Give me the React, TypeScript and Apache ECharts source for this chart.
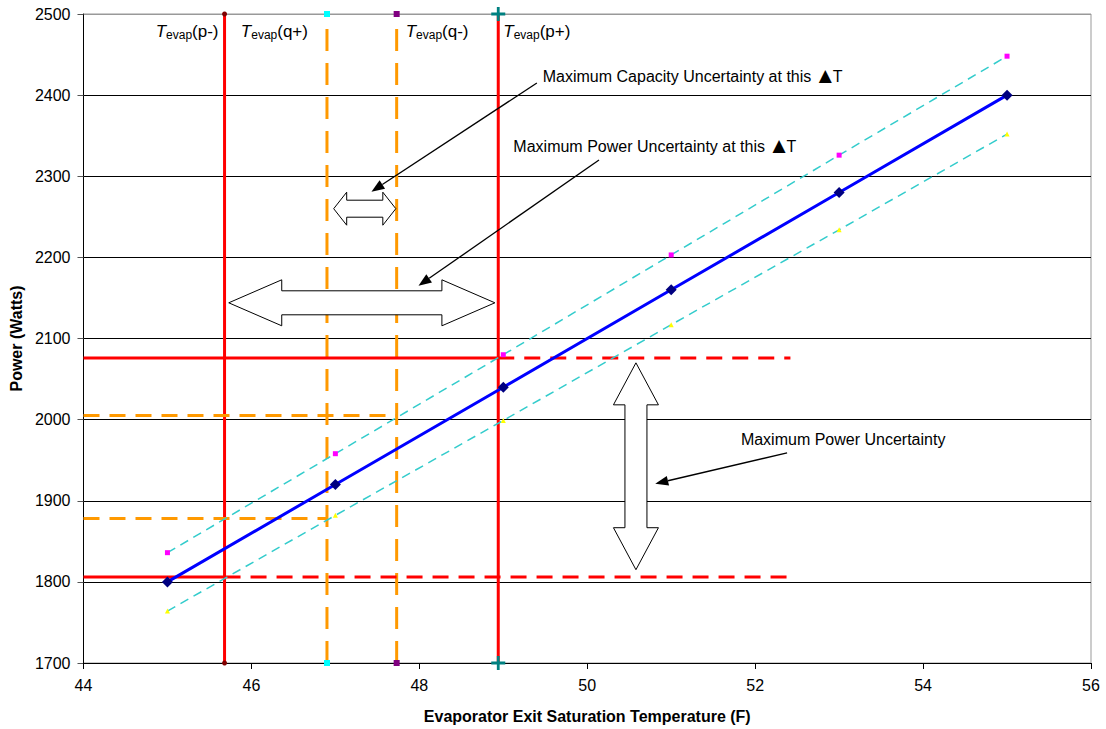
import React, { useEffect, useRef } from "react";
import * as echarts from "echarts";

// ---- data ----
const temps = [45, 47, 49, 51, 53, 55];
const powerMain = [1800, 1920, 2040, 2160, 2280, 2400];
const powerUpper = [1836, 1958, 2080, 2203, 2326, 2448];
const powerLower = [1764, 1882, 1999, 2117, 2234, 2352];

const tPminus = 45.68;
const tQplus = 46.9;
const tQminus = 47.73;
const tPplus = 48.94;

const pUpper = 2076;
const pLower = 1806;
const qUpper = 2005;
const qLower = 1878;
const dashEnd = 52.42;

const xMin = 44, xMax = 56, xStep = 2;
const yMin = 1700, yMax = 2500, yStep = 100;

const FONT = "'Liberation Sans', Arial, 'DejaVu Sans', sans-serif";

function vline(x: number, color: string, dashed: boolean, symbol: string, symColor: string, symSize: number) {
  return {
    type: "line",
    data: [[x, yMin], [x, yMax]],
    lineStyle: { color: dashed ? "#FF9900" : "#FF0000", width: 3, type: dashed ? [22, 12] : "solid" },
    itemStyle: { color: symColor },
    symbol,
    symbolSize: symSize,
    silent: true,
    z: 3,
  };
}

function hline(x0: number, x1: number, y: number, color: string, dashed: boolean) {
  return {
    type: "line",
    data: [[x0, y], [x1, y]],
    lineStyle: { color, width: 3, type: dashed ? [16, 10] : "solid" },
    symbol: "none",
    silent: true,
    z: 3,
  };
}

export default function App() {
  const ref = useRef<HTMLDivElement>(null);
  useEffect(() => {
    if (!ref.current) return;
    const chart = echarts.init(ref.current, undefined, { renderer: "svg" });
    const zip = (ys: number[]) => temps.map((t, i) => [t, ys[i]]);
    const splitColors = ["#000", "#000", "#000", "#000", "#000", "#000", "#000", "#000", "#999"];
    const option: any = {
      animation: false,
      textStyle: { fontFamily: FONT },
      grid: { left: 83, right: 15, top: 14, bottom: 66, show: true, borderColor: "#999", borderWidth: 1, backgroundColor: "#fff" },
      xAxis: {
        type: "value",
        min: xMin,
        max: xMax,
        interval: xStep,
        name: "Evaporator Exit Saturation Temperature (F)",
        nameLocation: "middle",
        nameGap: 45,
        nameTextStyle: { fontWeight: "bold", fontSize: 16, color: "#000", fontFamily: FONT },
        axisLine: { lineStyle: { color: "#000", width: 1 } },
        axisTick: { show: true, length: 6, lineStyle: { color: "#000" } },
        axisLabel: { fontSize: 16, color: "#000", margin: 14, fontFamily: FONT, formatter: (v: number) => String(v) },
        splitLine: { show: false },
      },
      yAxis: {
        type: "value",
        min: yMin,
        max: yMax,
        interval: yStep,
        name: "Power (Watts)",
        nameLocation: "middle",
        nameGap: 58,
        nameTextStyle: { fontWeight: "bold", fontSize: 16, color: "#000", fontFamily: FONT },
        axisLine: { show: true, lineStyle: { color: "#000", width: 1 } },
        axisTick: { show: true, length: 6, lineStyle: { color: "#555" } },
        axisLabel: { fontSize: 16, color: "#000", margin: 13, fontFamily: FONT, formatter: (v: number) => String(v) },
        splitLine: { show: true, lineStyle: { color: splitColors, width: 1 } },
      },
      series: [
        vline(tPminus, "#FF0000", false, "circle", "#800000", 5),
        vline(tQplus, "#FF9900", true, "rect", "#00FFFF", 6),
        vline(tQminus, "#FF9900", true, "rect", "#800080", 6),
        vline(tPplus, "#FF0000", false, "path://M4,0H6V4H10V6H6V10H4V6H0V4H4Z", "#008080", 14),
        hline(xMin, tPplus, pUpper, "#FF0000", false),
        hline(tPplus, dashEnd, pUpper, "#FF0000", true),
        hline(xMin, tPminus, pLower, "#FF0000", false),
        hline(tPminus, dashEnd, pLower, "#FF0000", true),
        hline(xMin, tQminus, qUpper, "#FF9900", true),
        hline(xMin, tQplus, qLower, "#FF9900", true),
        {
          type: "line",
          data: zip(powerUpper),
          lineStyle: { color: "#33CCCC", width: 1.5, type: [9, 6] },
          itemStyle: { color: "#FF00FF" },
          symbol: "rect",
          symbolSize: 5,
          silent: true,
          z: 4,
        },
        {
          type: "line",
          data: zip(powerLower),
          lineStyle: { color: "#33CCCC", width: 1.5, type: [9, 6] },
          itemStyle: { color: "#FFFF00" },
          symbol: "triangle",
          symbolSize: 5,
          silent: true,
          z: 4,
        },
        {
          type: "line",
          data: zip(powerMain),
          lineStyle: { color: "#0000FF", width: 3 },
          itemStyle: { color: "#000080" },
          symbol: "diamond",
          symbolSize: 11,
          silent: true,
          z: 5,
        },
      ],
    };
    chart.setOption(option);

    const px = (x: number, y: number) => chart.convertToPixel({ gridIndex: 0 }, [x, y]) as number[];

    const graphics: any[] = [];
    const arrowStyle = { fill: "#fff", stroke: "#000", lineWidth: 1 };

    const hDouble = (x0: number, x1: number, y: number, shaftHalf: number, headHalf: number, headLen: number) => {
      const a = px(x0, y), b = px(x1, y);
      const yc = a[1], xl = a[0], xr = b[0];
      graphics.push({
        type: "polygon",
        z: 100,
        shape: {
          points: [
            [xl, yc], [xl + headLen, yc - headHalf], [xl + headLen, yc - shaftHalf], [xr - headLen, yc - shaftHalf],
            [xr - headLen, yc - headHalf], [xr, yc], [xr - headLen, yc + headHalf], [xr - headLen, yc + shaftHalf],
            [xl + headLen, yc + shaftHalf], [xl + headLen, yc + headHalf],
          ],
        },
        style: arrowStyle,
      });
    };
    const vDouble = (x: number, y0: number, y1: number, shaftHalf: number, headHalf: number, headLen: number) => {
      const a = px(x, y0), b = px(x, y1);
      const xc = a[0], yt = a[1], yb = b[1];
      graphics.push({
        type: "polygon",
        z: 100,
        shape: {
          points: [
            [xc, yt], [xc + headHalf, yt + headLen], [xc + shaftHalf, yt + headLen], [xc + shaftHalf, yb - headLen],
            [xc + headHalf, yb - headLen], [xc, yb], [xc - headHalf, yb - headLen], [xc - shaftHalf, yb - headLen],
            [xc - shaftHalf, yt + headLen], [xc - headHalf, yt + headLen],
          ],
        },
        style: arrowStyle,
      });
    };
    const leader = (x0: number, y0: number, x1: number, y1: number) => {
      const a = px(x0, y0), b = px(x1, y1);
      const dx = b[0] - a[0], dy = b[1] - a[1];
      const len = Math.hypot(dx, dy);
      const ux = dx / len, uy = dy / len;
      const hl = 13, hw = 5;
      const bx = b[0] - ux * hl, by = b[1] - uy * hl;
      graphics.push({
        type: "line",
        z: 101,
        shape: { x1: a[0], y1: a[1], x2: bx, y2: by },
        style: { stroke: "#000", lineWidth: 1.3 },
      });
      graphics.push({
        type: "polygon",
        z: 101,
        shape: { points: [[b[0], b[1]], [bx - uy * hw, by + ux * hw], [bx + uy * hw, by - ux * hw]] },
        style: { fill: "#000" },
      });
    };
    const note = (x: number, y: number, text: string) => {
      const p = px(x, y);
      graphics.push({
        type: "text",
        z: 102,
        x: p[0],
        y: p[1],
        style: {
          text: text.replace(" \u25B2T", " {tri|\u25B2}{n|T}"),
          fill: "#000",
          font: `16px ${FONT}`,
          align: "left",
          verticalAlign: "middle",
          rich: {
            tri: { fontSize: 17, fontFamily: "'DejaVu Sans', sans-serif", fill: "#000", padding: [0, 1, 2, 3] },
            n: { fontSize: 16, fontFamily: FONT, fill: "#000" },
          },
        },
      });
    };
    const tLabel = (x: number, dxPx: number, align: string, tail: string) => {
      const p = px(x, yMax);
      graphics.push({
        type: "text",
        z: 102,
        x: p[0] + dxPx,
        y: 31,
        style: {
          text: `{t|T}{s|evap}{n|${tail}}`,
          align,
          verticalAlign: "middle",
          rich: {
            t: { fontSize: 17, fontStyle: "italic", fontFamily: FONT, fill: "#000", lineHeight: 20 },
            s: { fontSize: 12, fontFamily: FONT, fill: "#000", lineHeight: 20, verticalAlign: "bottom", padding: [6, 0, 0, 0] },
            n: { fontSize: 17, fontFamily: FONT, fill: "#000", lineHeight: 20 },
          },
        },
      });
    };

    hDouble(46.98, 47.72, 2260, 8.5, 16.5, 13);
    hDouble(45.73, 48.9, 2144, 12, 23, 53);
    vDouble(50.58, 2070, 1815, 11, 22.5, 42);

    leader(49.4, 2415, 47.43, 2281);
    leader(50.14, 2320, 47.99, 2165);
    leader(52.38, 1959, 50.81, 1921);

    note(49.47, 2423, "Maximum Capacity Uncertainty at this \u25B2T");
    note(49.12, 2337, "Maximum Power Uncertainty at this \u25B2T");
    note(51.83, 1975, "Maximum Power Uncertainty");

    tLabel(tPminus, -6, "right", "(p-)");
    tLabel(tQplus, -19, "right", "(q+)");
    tLabel(tQminus, 9, "left", "(q-)");
    tLabel(tPplus, 5, "left", "(p+)");

    chart.setOption({ graphic: graphics });

    return () => chart.dispose();
  }, []);
  return <div ref={ref} style={{ position: "fixed", left: 0, top: 0, width: 1106, height: 729, background: "#fff" }} />;
}
